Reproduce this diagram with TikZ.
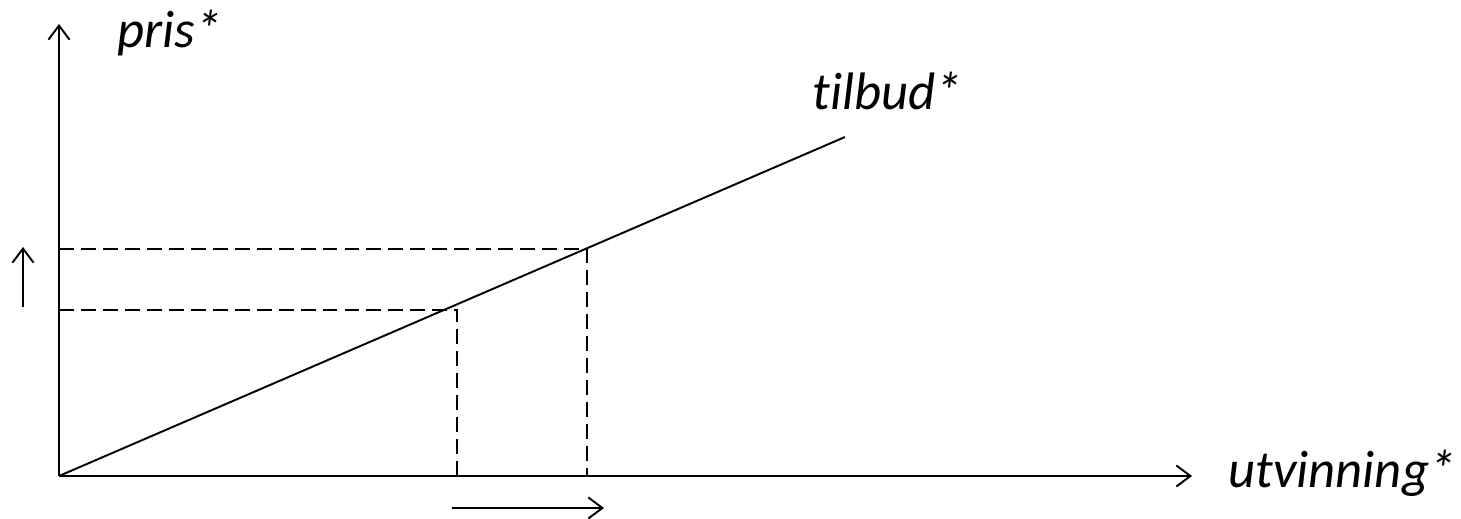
\documentclass[tikz,border=0pt]{standalone}
\usepackage{fontspec}
\setmainfont{Carlito}[Ligatures=NoCommon]
\usetikzlibrary{arrows.meta}

\begin{document}
\begin{tikzpicture}[x=0.02cm, y=-0.02cm,
        axis/.style={line width=1.1pt, -{Straight Barb[length=8pt, width=12pt, line width=1.1pt]}},
        guide/.style={line width=0.9pt, dash pattern=on 8.5pt off 4pt},
        curve/.style={line width=1.1pt},
        lbl/.style={font=\fontsize{30}{36}\selectfont\itshape, inner sep=0pt}
    ]
        \useasboundingbox (0,0) rectangle (1461,519);
        % Axes
        \coordinate (O) at (59,476);
        \coordinate (ytop) at (59,24);
        \coordinate (xend) at (1192,476);
        \draw[axis] (O) -- (ytop);
        \draw[axis] (O) -- (xend);
        \node[lbl, anchor=base west] (pris) at (117,48) {pris*};
        \node[lbl, anchor=base west] (utv) at (1228,488) {utvinning*};
        % Supply curve
        \coordinate (send) at (845,137);
        \draw[curve] (O) -- (send);
        \node[lbl, anchor=base west] (tilbud) at (812,110) {tilbud*};
        % Guide lines
        \coordinate (p1) at (457,310);
        \coordinate (p2) at (587,249);
        \coordinate (p1y) at (59,310);
        \coordinate (p2y) at (59,249);
        \coordinate (p1x) at (457,476);
        \coordinate (p2x) at (587,476);
        \draw[guide] (p1y) -- (p1) -- (p1x);
        \draw[guide] (p2y) -- (p2) -- (p2x);
        % Shift arrows
        \coordinate (ua) at (23,307);
        \coordinate (ub) at (23,247);
        \coordinate (ra) at (452,508);
        \coordinate (rb) at (604,508);
        \draw[axis] (ua) -- (ub);
        \draw[axis] (ra) -- (rb);
    \end{tikzpicture}
\end{document}
